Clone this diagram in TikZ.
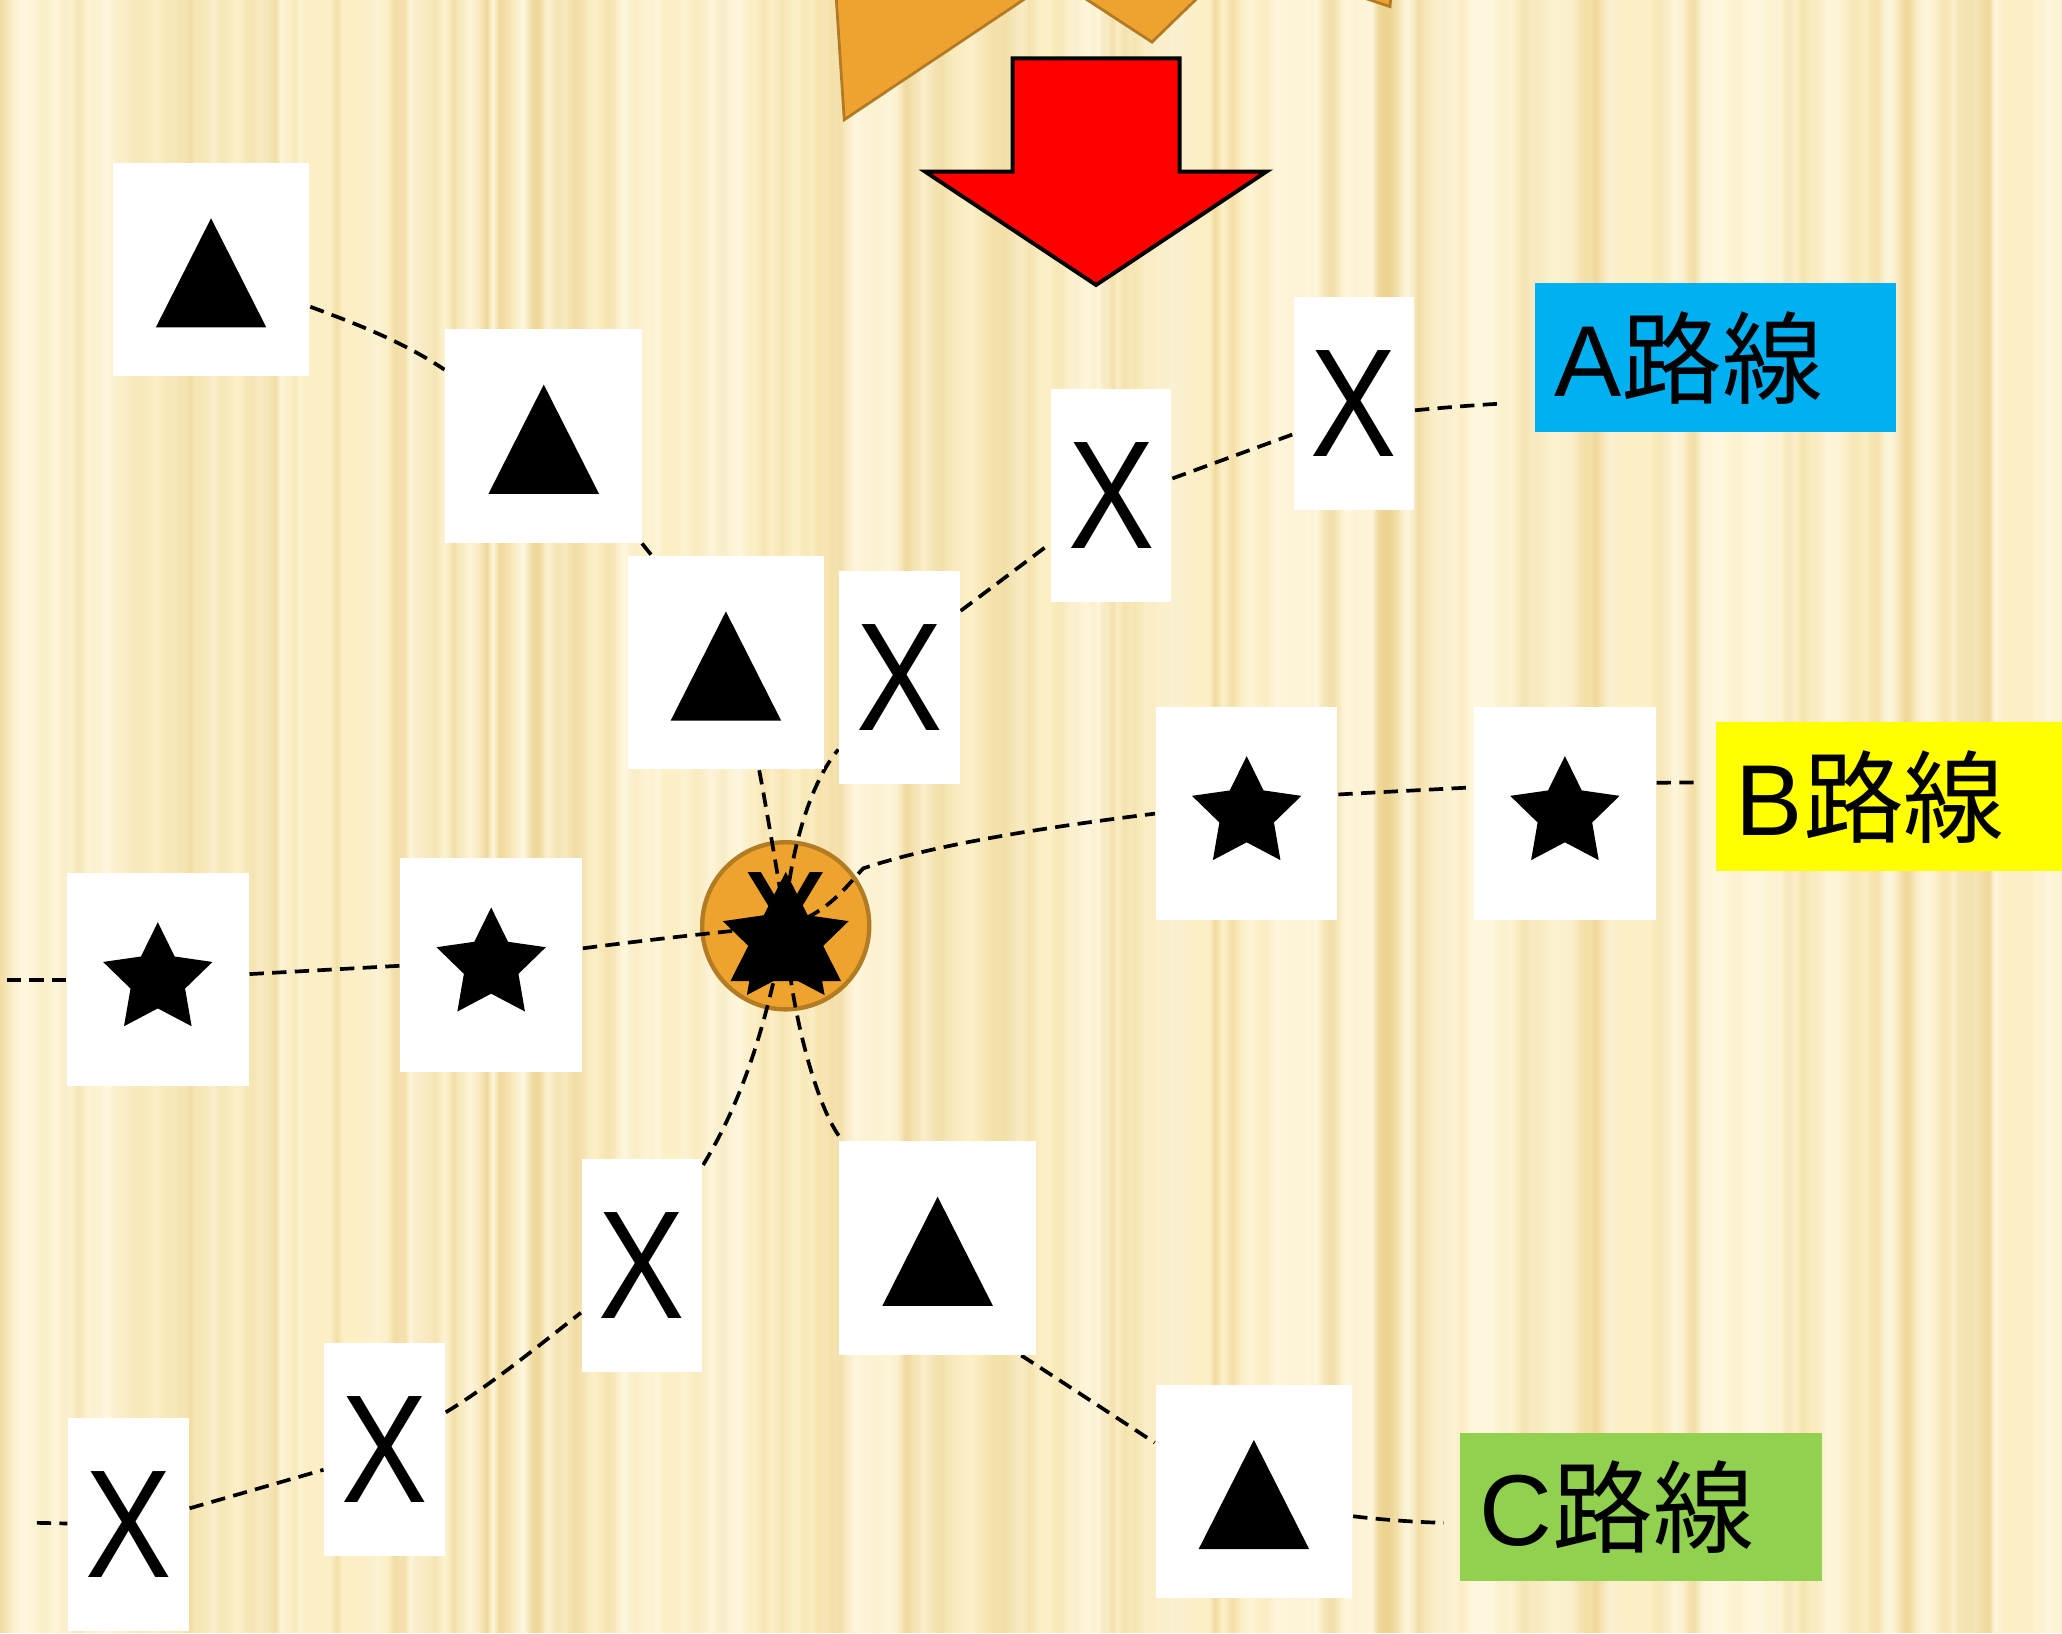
\documentclass[tikz,border=0pt]{standalone}
\usepackage{fontspec}
\usepackage{graphicx}
\setmainfont{Liberation Sans}
\newfontfamily\cjkfont{Noto Sans CJK JP}
\usetikzlibrary{calc,fadings}
\pgfdeclarelayer{back}
\pgfdeclarelayer{hubl}
\pgfdeclarelayer{lines}
\pgfsetlayers{back,hubl,lines,main}
\definecolor{bgbase}{HTML}{FCEFC6}
\definecolor{stripeD}{HTML}{EDD28E}
\definecolor{stripeL}{HTML}{FFF8E0}
\definecolor{hubfill}{HTML}{EEA32E}
\definecolor{hubline}{HTML}{B47C22}
\definecolor{burstfill}{HTML}{EEA330}
\definecolor{burstline}{HTML}{B27A22}
\definecolor{labA}{HTML}{00B0F0}
\definecolor{labB}{HTML}{FFFF00}
\definecolor{labC}{HTML}{92D050}
\tikzfading[name=stripefade, left color=transparent!100, right color=transparent!100, middle color=transparent!0]
\tikzset{
  symbox/.style={fill=white, draw=none, inner sep=0pt},
  tribox/.style={symbox, minimum width=1.495cm, minimum height=1.62cm},
  starbox/.style={symbox, minimum width=1.38cm, minimum height=1.62cm},
  xbox/.style={symbox, minimum width=0.915cm, minimum height=1.62cm, font=\fontsize{33.3pt}{38pt}\selectfont},
  routelabel/.style={inner xsep=0.15cm, inner ysep=0pt, minimum height=1.13cm, text width=2.45cm, align=left, font=\fontsize{21.8pt}{26pt}\selectfont},
  route/.style={draw=black, line width=0.8pt, dash pattern=on 3.1pt off 1.8pt},
  tri/.pic={\fill (0cm,0.39cm) -- (-0.42cm,-0.44cm) -- (0.42cm,-0.44cm) -- cycle;},
  starsym/.pic={\fill (90:0.437cm) -- (126:0.218cm) -- (162:0.437cm) -- (198:0.218cm) -- (234:0.437cm) -- (270:0.218cm) -- (306:0.437cm) -- (342:0.218cm) -- (18:0.437cm) -- (54:0.218cm) -- cycle;}
}
\begin{document}
\begin{tikzpicture}[x=0.01cm, y=-0.01cm]
\useasboundingbox (0,0) rectangle (1568,1242);
% background texture
\begin{pgfonlayer}{back}
\fill[bgbase] (0,0) rectangle (1568,1242);
\pgfmathsetseed{23}
\foreach \i in {1,...,120}{
  \pgfmathsetmacro{\xa}{rnd*1620-40}
  \pgfmathsetmacro{\wa}{8+rnd*30}
  \pgfmathsetmacro{\oa}{0.25+rnd*0.5}
  \fill[stripeD, opacity=\oa, path fading=stripefade] (\xa,0) rectangle ++(\wa,1242);
}
\foreach \i in {1,...,90}{
  \pgfmathsetmacro{\xa}{rnd*1620-40}
  \pgfmathsetmacro{\wa}{8+rnd*26}
  \pgfmathsetmacro{\oa}{0.4+rnd*0.6}
  \fill[stripeL, opacity=\oa, path fading=stripefade] (\xa,0) rectangle ++(\wa,1242);
}
\end{pgfonlayer}
\clip (0,0) rectangle (1568,1242);
% orange burst at the top
\filldraw[fill=burstfill, draw=burstline, line width=0.6pt, line join=miter]
  (632,-60) -- (642,91) -- (802.2,-16.2) -- (876,32) -- (943,-33) -- (1057,5) -- (1062,-60) -- cycle;
% red arrow
\filldraw[fill=red, draw=black, line width=0.85pt, line join=miter]
  (770,44.4) -- (897,44.4) -- (897,130.5) -- (963,130.5) -- (833.5,216.7) -- (703.5,130.5) -- (770,130.5) -- cycle;
% hub
\begin{pgfonlayer}{hubl}
\node[circle, fill=hubfill, draw=hubline, line width=0.95pt, minimum size=1.27cm, inner sep=0pt] (hub) at (597.5,704) {};
\end{pgfonlayer}
% triangle boxes (C route)
\node[tribox] (t1) at (160.5,205) {};
\node[tribox] (t2) at (413.5,331.5) {};
\node[tribox] (t3) at (552,504) {};
\node[tribox] (tc1) at (713,949) {};
\node[tribox] (tc2) at (953.5,1134) {};
\foreach \n in {t1,t2,t3,tc1,tc2} {\pic at (\n) {tri};}
% X boxes (A route)
\node[xbox] (xa1) at (684,515.5) {\scalebox{0.84}[1]{X}};
\node[xbox] (xa2) at (845,377) {\scalebox{0.84}[1]{X}};
\node[xbox] (xa3) at (1029.5,307) {\scalebox{0.84}[1]{X}};
\node[xbox] (xc1) at (488.2,962) {\scalebox{0.84}[1]{X}};
\node[xbox] (xc2) at (292.5,1102) {\scalebox{0.84}[1]{X}};
\node[xbox] (xc3) at (97.7,1159.5) {\scalebox{0.84}[1]{X}};
% star boxes (B route)
\node[starbox] (sb1) at (120,745) {};
\node[starbox] (sb2) at (373.5,733.8) {};
\node[starbox] (sb3) at (948,618.7) {};
\node[starbox] (sb4) at (1190,618.7) {};
\foreach \n in {sb1,sb2,sb3,sb4} {\pic at (\n) {starsym};}
% glyphs on the hub
\node[font=\fontsize{33.3pt}{38pt}\selectfont, inner sep=0pt] (hubx) at (hub) {\scalebox{0.84}[1]{X}};
\pic at ($(hub)+(0,-2)$) {tri};
\pic[scale=1.15] at ($(hub)+(0,12)$) {starsym};
% route labels
\node[routelabel, fill=labA] (la) at (1304.5,272) {A{\cjkfont 路線}};
\node[routelabel, fill=labB] (lb) at (1442.5,605.8) {B{\cjkfont 路線}};
\node[routelabel, fill=labC] (lc) at (1247.6,1146) {C{\cjkfont 路線}};
% free ends
\coordinate (astart) at (28,1158);
\coordinate (aend) at (1140,307);
\coordinate (bstart) at (5,745);
\coordinate (bend) at (1293,595);
\coordinate (cend) at (1098,1158);
% connectors
\begin{pgfonlayer}{lines}
% C route
\draw[route] (t1) .. controls (270,246) and (305,259) .. (t2);
\draw[route] (t2) .. controls (488,413) and (496,423) .. (t3);
\draw[route] (t3) .. controls (578,588) and (592,667) .. (hub.center);
\draw[route] (hub.center) .. controls (599,760) and (621,845) .. (tc1);
\draw[route] (tc1) .. controls (776,1030) and (878,1097) .. (tc2);
\draw[route] (tc2) .. controls (1029,1153) and (1060,1157) .. (cend);
% A route
\draw[route] (astart) -- (xc3);
\draw[route] (xc3) .. controls (144,1147) and (245,1118) .. (xc2);
\draw[route] (xc2) .. controls (372,1054) and (410,1023) .. (xc1);
\draw[route] (xc1) .. controls (570,828) and (585,765) .. (hub.center);
\draw[route] (hub.center) .. controls (597,670) and (611,601) .. (xa1);
\draw[route] (xa1) .. controls (730,465) and (799,413) .. (xa2);
\draw[route] (xa2) .. controls (892,363.7) and (983.7,330) .. (xa3);
\draw[route] (xa3) .. controls (1076,312) and (1110,308.7) .. (aend);
% B route
\draw[route] (bstart) -- (sb1);
\draw[route] (sb1) .. controls (190,740.7) and (304.3,734.4) .. (sb2);
\draw[route] (sb2) .. controls (444,721) and (520,711) .. (hub.center);
\draw[route] (hub.center) .. controls (630,695) and (645,672) .. (656.5,660.3) .. controls (711,642) and (799,628.5) .. (sb3.west);
\draw[route] (sb3) .. controls (1018.4,604) and (1120.2,598.7) .. (sb4);
\draw[route] (sb4) .. controls (1260,595.2) and (1280,595) .. (bend);
\end{pgfonlayer}
\end{tikzpicture}
\end{document}
